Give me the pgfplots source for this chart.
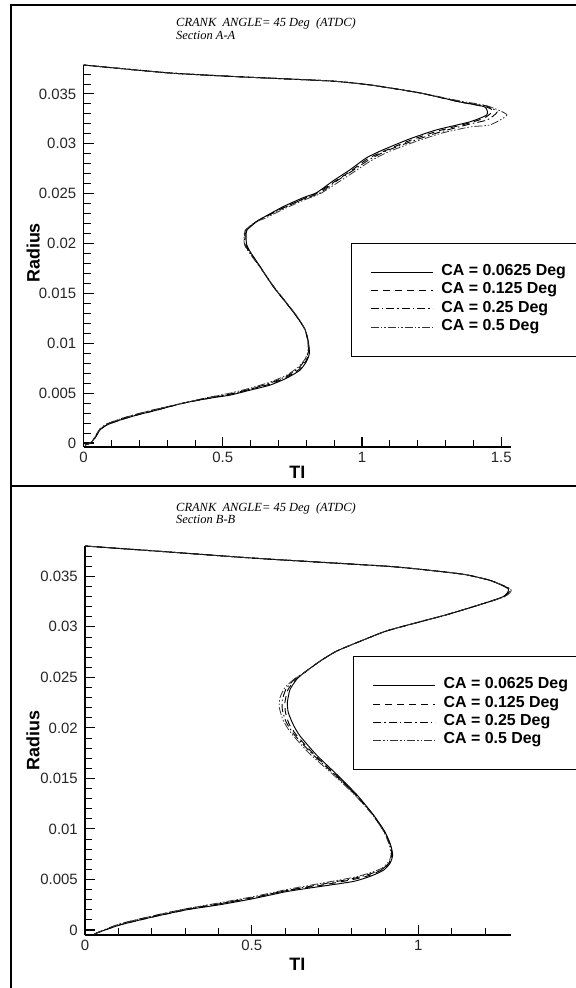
\documentclass[border=0pt]{standalone}
\usepackage{fontspec}
\setmainfont{Liberation Sans}
\newfontfamily\titlefont{Liberation Serif}
\usepackage{pgfplots}
\usepackage{pgfplotstable}
\pgfplotsset{compat=1.18}

% Section A-A, TI against radius
\pgfplotstableread{
x y
0.005 -0.0002
0.025 0.0000
0.041 0.0005
0.059 0.0013
0.083 0.0018
0.131 0.0023
0.191 0.0028
0.263 0.0033
0.358 0.0040
0.454 0.0045
0.526 0.0048
0.598 0.0053
0.669 0.0058
0.729 0.0065
0.777 0.0073
0.801 0.0082
0.811 0.0090
0.807 0.0102
0.795 0.0114
0.765 0.0127
0.729 0.0140
0.681 0.0157
0.634 0.0177
0.598 0.0192
0.585 0.0200
0.586 0.0213
0.622 0.0222
0.645 0.0226
0.717 0.0237
0.789 0.0246
0.837 0.0251
0.897 0.0263
0.957 0.0274
1.016 0.0286
1.076 0.0294
1.172 0.0305
1.268 0.0314
1.387 0.0322
1.448 0.0329
1.440 0.0337
1.351 0.0342
1.208 0.0351
1.029 0.0359
0.885 0.0363
0.574 0.0367
0.310 0.0371
0.000 0.0379
}\aOne
\pgfplotstableread{
x y
0.005 -0.0002
0.025 0.0000
0.041 0.0005
0.059 0.0013
0.083 0.0018
0.131 0.0023
0.191 0.0028
0.263 0.0033
0.358 0.0040
0.454 0.0045
0.526 0.0049
0.598 0.0054
0.669 0.0059
0.729 0.0066
0.775 0.0074
0.800 0.0083
0.810 0.0091
0.806 0.0102
0.795 0.0114
0.765 0.0127
0.729 0.0140
0.681 0.0157
0.633 0.0177
0.596 0.0192
0.581 0.0200
0.583 0.0213
0.621 0.0222
0.646 0.0226
0.719 0.0236
0.791 0.0245
0.841 0.0251
0.901 0.0262
0.961 0.0273
1.020 0.0285
1.082 0.0293
1.178 0.0304
1.275 0.0313
1.387 0.0321
1.440 0.0326
1.470 0.0333
1.445 0.0337
1.351 0.0342
1.208 0.0351
1.029 0.0359
0.885 0.0363
0.574 0.0367
0.310 0.0371
0.000 0.0379
}\aTwo
\pgfplotstableread{
x y
0.005 -0.0002
0.025 0.0000
0.041 0.0006
0.059 0.0014
0.083 0.0019
0.131 0.0024
0.191 0.0029
0.263 0.0034
0.358 0.0040
0.454 0.0046
0.526 0.0049
0.598 0.0054
0.669 0.0060
0.729 0.0067
0.772 0.0075
0.797 0.0084
0.808 0.0092
0.805 0.0103
0.795 0.0114
0.766 0.0127
0.730 0.0140
0.682 0.0157
0.632 0.0177
0.594 0.0192
0.578 0.0200
0.581 0.0213
0.620 0.0222
0.648 0.0226
0.720 0.0236
0.793 0.0245
0.845 0.0250
0.905 0.0262
0.966 0.0273
1.025 0.0284
1.088 0.0293
1.184 0.0303
1.282 0.0312
1.390 0.0320
1.450 0.0324
1.485 0.0332
1.445 0.0338
1.351 0.0342
1.208 0.0351
1.029 0.0359
0.885 0.0363
0.574 0.0367
0.310 0.0371
0.000 0.0379
}\aThree
\pgfplotstableread{
x y
0.005 -0.0002
0.025 0.0000
0.041 0.0006
0.059 0.0014
0.083 0.0019
0.131 0.0024
0.191 0.0029
0.263 0.0034
0.358 0.0040
0.454 0.0046
0.526 0.0050
0.598 0.0055
0.669 0.0061
0.729 0.0068
0.770 0.0076
0.795 0.0084
0.806 0.0092
0.805 0.0103
0.795 0.0114
0.767 0.0127
0.731 0.0140
0.683 0.0157
0.632 0.0177
0.592 0.0192
0.577 0.0200
0.580 0.0213
0.620 0.0222
0.650 0.0225
0.722 0.0235
0.795 0.0244
0.850 0.0250
0.912 0.0261
0.972 0.0272
1.032 0.0283
1.095 0.0292
1.190 0.0302
1.290 0.0311
1.390 0.0317
1.460 0.0319
1.520 0.0329
1.450 0.0338
1.351 0.0343
1.208 0.0351
1.029 0.0359
0.885 0.0363
0.574 0.0367
0.310 0.0371
0.000 0.0379
}\aFour

% Section B-B
\pgfplotstableread{
x y
0.030 -0.0004
0.035 -0.0003
0.105 0.0005
0.205 0.0013
0.305 0.0020
0.405 0.0025
0.505 0.0031
0.605 0.0038
0.705 0.0043
0.805 0.0048
0.855 0.0053
0.895 0.0059
0.915 0.0066
0.923 0.0074
0.917 0.0084
0.900 0.0097
0.865 0.0114
0.815 0.0134
0.755 0.0154
0.695 0.0173
0.645 0.0192
0.625 0.0203
0.610 0.0215
0.607 0.0225
0.615 0.0238
0.635 0.0248
0.655 0.0254
0.705 0.0266
0.755 0.0276
0.835 0.0287
0.905 0.0296
1.005 0.0305
1.085 0.0312
1.185 0.0322
1.255 0.0330
1.270 0.03375
1.215 0.0346
1.135 0.0352
1.005 0.0357
0.905 0.0360
0.755 0.0363
0.505 0.0368
0.255 0.0374
0.000 0.0380
}\bOne
\pgfplotstableread{
x y
0.030 -0.0004
0.035 -0.0003
0.105 0.0005
0.205 0.0013
0.305 0.0020
0.405 0.0026
0.505 0.0032
0.605 0.0039
0.705 0.0044
0.805 0.0050
0.853 0.0054
0.893 0.0060
0.914 0.0067
0.921 0.0075
0.915 0.0085
0.898 0.0097
0.863 0.0114
0.811 0.0134
0.750 0.0154
0.686 0.0174
0.634 0.0193
0.612 0.0204
0.601 0.0216
0.600 0.0226
0.609 0.0238
0.633 0.0248
0.655 0.0254
0.705 0.0266
0.755 0.0276
0.835 0.0287
0.905 0.0296
1.005 0.0305
1.085 0.0312
1.185 0.0322
1.257 0.0330
1.273 0.03375
1.215 0.0346
1.135 0.0352
1.005 0.0357
0.905 0.0360
0.755 0.0363
0.505 0.0368
0.255 0.0374
0.000 0.0380
}\bTwo
\pgfplotstableread{
x y
0.030 -0.0004
0.035 -0.0003
0.105 0.0006
0.205 0.0014
0.305 0.0021
0.405 0.0026
0.505 0.0032
0.605 0.0039
0.705 0.0045
0.805 0.0051
0.851 0.0055
0.891 0.0060
0.913 0.0067
0.920 0.0075
0.914 0.0085
0.897 0.0098
0.862 0.0115
0.808 0.0135
0.745 0.0155
0.679 0.0175
0.626 0.0194
0.603 0.0206
0.592 0.0218
0.592 0.0228
0.604 0.0239
0.631 0.0249
0.655 0.0254
0.705 0.0266
0.755 0.0276
0.835 0.0287
0.905 0.0296
1.005 0.0305
1.085 0.0312
1.185 0.0322
1.258 0.0330
1.274 0.03375
1.215 0.0346
1.135 0.0352
1.005 0.0357
0.905 0.0360
0.755 0.0363
0.505 0.0368
0.255 0.0374
0.000 0.0380
}\bThree
\pgfplotstableread{
x y
0.030 -0.0004
0.035 -0.0003
0.105 0.0006
0.205 0.0014
0.305 0.0021
0.405 0.0027
0.505 0.0033
0.605 0.0040
0.705 0.0046
0.805 0.0052
0.850 0.0056
0.890 0.0061
0.912 0.0068
0.918 0.0075
0.912 0.0085
0.895 0.0098
0.860 0.0115
0.805 0.0135
0.740 0.0155
0.672 0.0175
0.618 0.0195
0.595 0.0207
0.583 0.0220
0.585 0.0230
0.600 0.0240
0.630 0.0249
0.655 0.0254
0.705 0.0266
0.755 0.0276
0.835 0.0287
0.905 0.0296
1.005 0.0305
1.085 0.0312
1.185 0.0322
1.260 0.0330
1.278 0.0337
1.215 0.0346
1.135 0.0352
1.005 0.0357
0.905 0.0360
0.755 0.0363
0.505 0.0368
0.255 0.0374
0.000 0.0380
}\bFour

\pgfplotsset{
  legend image code/.code={\draw[#1] (0bp,0bp) -- (62bp,0bp);},
  tecplot/.style={
    scale only axis,
    axis lines*=left,
    axis line style={line width=1.3bp, black},
    tick align=inside,
    major tick length=10bp,
    minor tick length=7bp,
    major tick style={line width=1.1bp, black},
    minor tick style={line width=0.8bp, black},
    scaled y ticks=false, scaled x ticks=false,
    tick label style={font=\fontsize{15}{18}\selectfont, text=black!85},
    yticklabel style={inner sep=0pt, xshift=-7bp},
    xticklabel style={inner sep=0pt, yshift=-5bp},
    ytick={0,0.005,0.01,0.015,0.02,0.025,0.03,0.035},
    yticklabels={0,0.005,0.01,0.015,0.02,0.025,0.03,0.035},
    minor ytick={0.001,0.002,0.003,0.004,0.006,0.007,0.008,0.009,
      0.011,0.012,0.013,0.014,0.016,0.017,0.018,0.019,
      0.021,0.022,0.023,0.024,0.026,0.027,0.028,0.029,
      0.031,0.032,0.033,0.034,0.036,0.037},
    label style={font=\bfseries\fontsize{18}{20}\selectfont},
    xlabel={TI}, ylabel={Radius},
    clip=false,
    legend cell align=left,
    legend style={draw=black, line width=0.9bp, inner xsep=19bp, inner ysep=20bp,
      font=\bfseries\fontsize{16}{18}\selectfont,
      nodes={inner xsep=1bp, inner ysep=0bp, text height=12.3bp, text depth=6bp},
      /tikz/every odd column/.append style={column sep=7bp}},
  },
  ca1/.style={black, line width=0.95bp, solid, smooth, tension=0.35},
  ca2/.style={black, line width=0.95bp, dash pattern=on 7bp off 5bp, smooth, tension=0.35},
  ca3/.style={black, line width=0.9bp, dash pattern=on 8bp off 3bp on 1.5bp off 3bp, smooth, tension=0.35},
  ca4/.style={black!80, line width=0.8bp, dash pattern=on 8bp off 2bp on 1.5bp off 2bp on 1.5bp off 2bp, smooth, tension=0.35},
}

\begin{document}
\begin{tikzpicture}
\useasboundingbox (0bp,0bp) rectangle (576bp,-988bp);
\clip (0bp,0bp) rectangle (576bp,-988bp);
\draw[line width=1.5bp] (600bp,-5bp) -- (11bp,-5bp) -- (11bp,-1000bp);
\draw[line width=1.5bp] (11bp,-486bp) -- (600bp,-486bp);

\node[anchor=west, font=\titlefont\itshape\fontsize{12.5}{13}\selectfont, inner sep=0pt] at (176bp,-24bp) {CRANK\ \ ANGLE= 45 Deg\ \ (ATDC)};
\node[anchor=west, font=\titlefont\itshape\fontsize{12.5}{13}\selectfont, inner sep=0pt] at (176bp,-35bp) {Section A-A};
\node[anchor=west, font=\titlefont\itshape\fontsize{12.5}{13}\selectfont, inner sep=0pt] at (176bp,-508bp) {CRANK\ \ ANGLE= 45 Deg\ \ (ATDC)};
\node[anchor=west, font=\titlefont\itshape\fontsize{12.5}{13}\selectfont, inner sep=0pt] at (176bp,-519bp) {Section B-B};

\begin{axis}[tecplot,
  at={(83.5bp,-447bp)}, anchor=south west,
  width=427bp, height=382bp,
  xmin=0, xmax=1.533, ymin=-0.0004, ymax=0.0379,
  xtick={0,0.5,1,1.5}, xticklabels={0,0.5,1,1.5},
  minor xtick={0.1,0.2,0.3,0.4,0.6,0.7,0.8,0.9,1.1,1.2,1.3,1.4},
  xlabel style={at={(axis description cs:0.501,-0.067)}, anchor=center},
  ylabel style={at={(axis description cs:-0.118,0.508)}, anchor=center},
  legend style={at={(axis description cs:0.6265,0.5348)}, anchor=north west},
]
\addplot[ca1] table[x=x, y=y] {\aOne};
\addplot[ca2] table[x=x, y=y] {\aTwo};
\addplot[ca3] table[x=x, y=y] {\aThree};
\addplot[ca4] table[x=x, y=y] {\aFour};
\legend{CA = 0.0625 Deg, CA = 0.125 Deg, CA = 0.25 Deg, CA = 0.5 Deg}
\end{axis}

\begin{axis}[tecplot,
  at={(85bp,-935bp)}, anchor=south west,
  width=425.7bp, height=389bp,
  xmin=0, xmax=1.277, ymin=-0.0005, ymax=0.038,
  xtick={0,0.5,1}, xticklabels={0,0.5,1},
  minor xtick={0.1,0.2,0.3,0.4,0.6,0.7,0.8,0.9,1.1,1.2},
  xlabel style={at={(axis description cs:0.499,-0.0746)}, anchor=center},
  ylabel style={at={(axis description cs:-0.122,0.501)}, anchor=center},
  legend style={at={(axis description cs:0.630,0.717)}, anchor=north west},
]
\addplot[ca1] table[x=x, y=y] {\bOne};
\addplot[ca2] table[x=x, y=y] {\bTwo};
\addplot[ca3] table[x=x, y=y] {\bThree};
\addplot[ca4] table[x=x, y=y] {\bFour};
\legend{CA = 0.0625 Deg, CA = 0.125 Deg, CA = 0.25 Deg, CA = 0.5 Deg}
\end{axis}
\end{tikzpicture}
\end{document}
